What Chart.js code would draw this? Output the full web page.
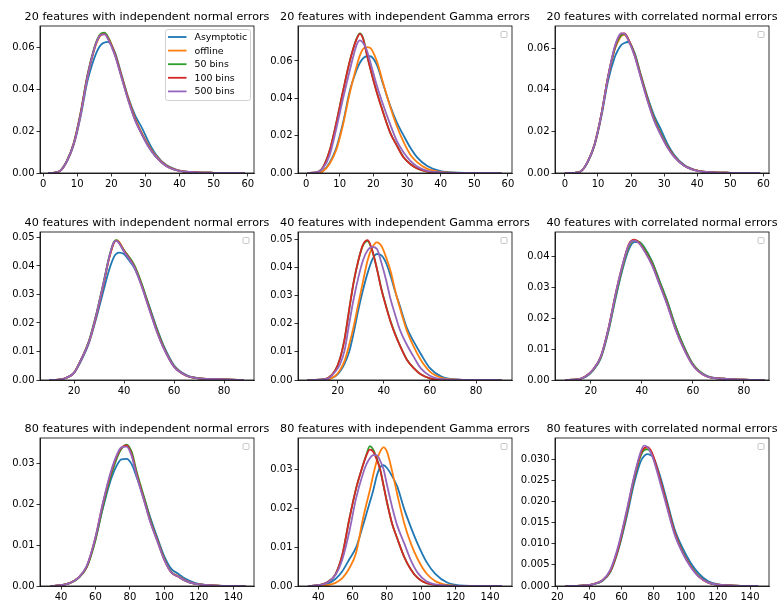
<!DOCTYPE html>
<html>
<head>
<meta charset="utf-8">
<script src="https://cdn.jsdelivr.net/npm/chart.js@4.4.0/dist/chart.umd.min.js"></script>
<style>
  body { margin: 0; background: #fff; width: 784px; height: 610px; position: relative; overflow: hidden; }
  canvas { position: absolute; }
</style>
</head>
<body>
<script>
const seriesLabels = ['Asymptotic', 'offline', '50 bins', '100 bins', '500 bins'];
const seriesColors = ['#1f77b4', '#ff7f0e', '#2ca02c', '#d62728', '#9467bd'];

const titles = [
    '20 features with independent normal errors', '20 features with independent Gamma errors', '20 features with correlated normal errors',
    '40 features with independent normal errors', '40 features with independent Gamma errors', '40 features with correlated normal errors',
    '80 features with independent normal errors', '80 features with independent Gamma errors', '80 features with correlated normal errors'
];

// tick labels
const x20Ticks = [0, 10, 20, 30, 40, 50, 60];
const y20Ticks = [0, 0.02, 0.04, 0.06];
const x40Ticks = [20, 40, 60, 80];
const y40Ticks = [0, 0.01, 0.02, 0.03, 0.04, 0.05];
const y40CorrTicks = [0, 0.01, 0.02, 0.03, 0.04];
const x80Ticks = [40, 60, 80, 100, 120, 140];
const x80CorrTicks = [20, 40, 60, 80, 100, 120, 140];
const y80Ticks = [0, 0.01, 0.02, 0.03];
const y80CorrTicks = [0, 0.005, 0.01, 0.015, 0.02, 0.025, 0.03];

// 20 features, independent normal
const p1X = [1.5, 3, 5, 7, 9, 11, 13, 15, 16, 17, 18, 19, 21, 23, 25, 27, 29, 31, 33, 36, 40, 45, 50, 59];
const p1Asym = [0, 0.0001, 0.001, 0.0055, 0.0135, 0.027, 0.044, 0.055, 0.059, 0.0615, 0.0625, 0.0628, 0.058, 0.047, 0.036, 0.0275, 0.0215, 0.0145, 0.009, 0.004, 0.0012, 0.0003, 0.0001, 0];
const p1Offline = [0, 0.0001, 0.001, 0.0058, 0.014, 0.028, 0.046, 0.059, 0.0635, 0.066, 0.0668, 0.065, 0.0575, 0.0465, 0.0355, 0.026, 0.019, 0.013, 0.0083, 0.0037, 0.0011, 0.0003, 0.0001, 0];
const p1Bins50 = [0, 0.0001, 0.0011, 0.006, 0.0145, 0.029, 0.047, 0.06, 0.0645, 0.0668, 0.0672, 0.0652, 0.0572, 0.0462, 0.035, 0.0255, 0.0185, 0.0125, 0.008, 0.0035, 0.001, 0.0003, 0.0001, 0];
const p1Bins100 = [0, 0.0001, 0.001, 0.0058, 0.0142, 0.0285, 0.0465, 0.0595, 0.064, 0.0663, 0.0665, 0.0645, 0.057, 0.046, 0.035, 0.0255, 0.0185, 0.0125, 0.008, 0.0035, 0.001, 0.0003, 0.0001, 0];
const p1Bins500 = [0, 0.0001, 0.001, 0.0058, 0.014, 0.028, 0.046, 0.0595, 0.064, 0.0662, 0.0664, 0.0642, 0.0565, 0.0455, 0.0345, 0.025, 0.0182, 0.0122, 0.0078, 0.0034, 0.001, 0.0003, 0.0001, 0];

// 20 features, independent Gamma
const p2X = [0.5, 3, 5, 7, 9, 11, 13, 15, 16, 17, 18, 19, 21, 23, 25, 27, 29, 31, 33, 36, 40, 45, 50, 58];
const p2Asym = [0, 0.0001, 0.001, 0.0055, 0.0135, 0.027, 0.044, 0.055, 0.059, 0.0615, 0.0625, 0.0625, 0.058, 0.047, 0.036, 0.027, 0.02, 0.0135, 0.0084, 0.0038, 0.001, 0.0002, 0, 0];
const p2Offline = [0, 0.0001, 0.001, 0.005, 0.0125, 0.026, 0.043, 0.057, 0.063, 0.0665, 0.0674, 0.067, 0.06, 0.0475, 0.0355, 0.025, 0.0165, 0.0098, 0.0058, 0.0022, 0.0006, 0.0001, 0, 0];
const p2Bins50 = [0, 0.0003, 0.003, 0.012, 0.027, 0.044, 0.06, 0.072, 0.0748, 0.072, 0.064, 0.0567, 0.0433, 0.032, 0.0216, 0.0147, 0.0084, 0.0048, 0.0025, 0.0007, 0.0002, 0, 0, 0];
const p2Bins100 = [0, 0.0003, 0.003, 0.012, 0.027, 0.044, 0.06, 0.0715, 0.0745, 0.0715, 0.0638, 0.0565, 0.0432, 0.0318, 0.0215, 0.0145, 0.0083, 0.0047, 0.0024, 0.0007, 0.0002, 0, 0, 0];
const p2Bins500 = [0, 0.0003, 0.0025, 0.0095, 0.024, 0.04, 0.055, 0.0685, 0.071, 0.0695, 0.066, 0.06, 0.047, 0.036, 0.026, 0.017, 0.011, 0.0065, 0.0035, 0.0012, 0.0003, 0, 0, 0];

// 20 features, correlated normal
const p3X = [0, 3, 5, 7, 9, 11, 13, 15, 16, 17, 18, 19, 21, 23, 25, 27, 29, 31, 33, 36, 40, 45, 50, 59];
const p3Asym = [0, 0.0001, 0.001, 0.0055, 0.0135, 0.027, 0.044, 0.0555, 0.059, 0.0615, 0.0625, 0.063, 0.058, 0.047, 0.0365, 0.0275, 0.021, 0.014, 0.0088, 0.004, 0.0012, 0.0003, 0.0001, 0];
const p3Offline = [0, 0.0001, 0.001, 0.0058, 0.014, 0.028, 0.046, 0.059, 0.063, 0.0658, 0.0665, 0.0645, 0.0572, 0.0465, 0.0355, 0.026, 0.0188, 0.0128, 0.0082, 0.0036, 0.0011, 0.0003, 0.0001, 0];
const p3Bins50 = [0, 0.0001, 0.001, 0.0058, 0.014, 0.028, 0.046, 0.0595, 0.0638, 0.0662, 0.0668, 0.0648, 0.0575, 0.0465, 0.0355, 0.026, 0.019, 0.0128, 0.0082, 0.0036, 0.0011, 0.0003, 0.0001, 0];
const p3Bins100 = [0, 0.0001, 0.001, 0.0058, 0.014, 0.028, 0.046, 0.06, 0.0645, 0.067, 0.0672, 0.065, 0.057, 0.046, 0.035, 0.0255, 0.0185, 0.0125, 0.008, 0.0036, 0.0011, 0.0003, 0.0001, 0];
const p3Bins500 = [0, 0.0001, 0.001, 0.0058, 0.014, 0.028, 0.046, 0.0605, 0.065, 0.0672, 0.067, 0.0645, 0.0565, 0.0455, 0.0345, 0.025, 0.0182, 0.0122, 0.0078, 0.0035, 0.001, 0.0003, 0.0001, 0];

// 40 features, independent normal
const p4X = [10, 14, 17, 20, 23, 26, 29, 32, 34, 36, 37, 38, 40, 42, 44, 47, 50, 53, 56, 60, 65, 70, 80, 88];
const p4Asym = [0, 0.0001, 0.0008, 0.0025, 0.007, 0.013, 0.022, 0.032, 0.0385, 0.0432, 0.0443, 0.0447, 0.0442, 0.042, 0.0395, 0.0335, 0.0262, 0.0185, 0.0118, 0.0052, 0.0017, 0.0006, 0.0002, 0];
const p4Offline = [0, 0.0001, 0.0008, 0.0025, 0.0075, 0.0135, 0.023, 0.0345, 0.0425, 0.0482, 0.049, 0.0485, 0.0455, 0.043, 0.0402, 0.0335, 0.0255, 0.0178, 0.0112, 0.0048, 0.0015, 0.0006, 0.0002, 0];
const p4Bins50 = [0, 0.0001, 0.0008, 0.0025, 0.0075, 0.0138, 0.0235, 0.035, 0.043, 0.0485, 0.049, 0.0482, 0.0455, 0.0432, 0.0405, 0.034, 0.0258, 0.018, 0.0113, 0.0048, 0.0015, 0.0006, 0.0002, 0];
const p4Bins100 = [0, 0.0001, 0.0008, 0.0025, 0.0075, 0.0135, 0.023, 0.0345, 0.0425, 0.0482, 0.0488, 0.0482, 0.0452, 0.0428, 0.04, 0.0333, 0.0253, 0.0175, 0.011, 0.0047, 0.0015, 0.0006, 0.0002, 0];
const p4Bins500 = [0, 0.0001, 0.0008, 0.0025, 0.0075, 0.0135, 0.0232, 0.0348, 0.0428, 0.0484, 0.0488, 0.048, 0.045, 0.0425, 0.0398, 0.033, 0.025, 0.0172, 0.0108, 0.0046, 0.0015, 0.0006, 0.0002, 0];

// 40 features, independent Gamma
const p5X = [7, 12, 16, 19, 21, 23, 25, 27, 29, 31, 33, 35, 37, 39, 41, 43, 45, 47, 50, 53, 56, 60, 65, 70, 80, 91];
const p5Asym = [0, 0, 0.0003, 0.0013, 0.003, 0.0058, 0.01, 0.017, 0.025, 0.032, 0.038, 0.0427, 0.0447, 0.0442, 0.0415, 0.0368, 0.0312, 0.0262, 0.0185, 0.0136, 0.0093, 0.0042, 0.0012, 0.0003, 0, 0];
const p5Offline = [0, 0, 0.0003, 0.0015, 0.0035, 0.0068, 0.0125, 0.0192, 0.0272, 0.035, 0.0425, 0.047, 0.0488, 0.0475, 0.0435, 0.0385, 0.0315, 0.0255, 0.0175, 0.0118, 0.0072, 0.003, 0.0008, 0.0002, 0, 0];
const p5Bins50 = [0, 0.0001, 0.0008, 0.0035, 0.0075, 0.0145, 0.025, 0.035, 0.0425, 0.0478, 0.0493, 0.0458, 0.0395, 0.0322, 0.0262, 0.0207, 0.0162, 0.0123, 0.0073, 0.0042, 0.002, 0.0006, 0.0001, 0, 0, 0];
const p5Bins100 = [0, 0.0001, 0.0008, 0.0035, 0.0075, 0.0145, 0.025, 0.035, 0.0425, 0.048, 0.0496, 0.046, 0.0395, 0.032, 0.026, 0.0205, 0.016, 0.0122, 0.0072, 0.0042, 0.002, 0.0006, 0.0001, 0, 0, 0];
const p5Bins500 = [0, 0.0001, 0.0006, 0.003, 0.0055, 0.0105, 0.02, 0.029, 0.0365, 0.0425, 0.046, 0.0472, 0.0465, 0.0415, 0.0355, 0.0285, 0.023, 0.0178, 0.0125, 0.0082, 0.0042, 0.0015, 0.0003, 0.0001, 0, 0];

// 40 features, correlated normal
const p6X = [10, 15, 18, 21, 24, 27, 30, 33, 35, 37, 39, 41, 44, 47, 50, 53, 56, 60, 65, 72, 80, 88];
const p6Asym = [0, 0.0002, 0.001, 0.0032, 0.0072, 0.016, 0.0275, 0.0375, 0.0425, 0.0447, 0.0447, 0.043, 0.0385, 0.032, 0.0255, 0.018, 0.0118, 0.0052, 0.0015, 0.0004, 0.0001, 0];
const p6Offline = [0, 0.0002, 0.0012, 0.0034, 0.0076, 0.0168, 0.0285, 0.0385, 0.0435, 0.0452, 0.0446, 0.0425, 0.038, 0.0315, 0.025, 0.0175, 0.0114, 0.005, 0.0014, 0.0004, 0.0001, 0];
const p6Bins50 = [0, 0.0002, 0.0011, 0.0033, 0.0075, 0.0165, 0.0282, 0.0383, 0.0435, 0.0452, 0.0448, 0.0428, 0.0382, 0.0318, 0.0252, 0.0178, 0.0116, 0.0051, 0.0014, 0.0004, 0.0001, 0];
const p6Bins100 = [0, 0.0002, 0.0012, 0.0035, 0.0078, 0.017, 0.029, 0.039, 0.0442, 0.0455, 0.0445, 0.042, 0.0375, 0.031, 0.0245, 0.017, 0.011, 0.0048, 0.0013, 0.0004, 0.0001, 0];
const p6Bins500 = [0, 0.0002, 0.0012, 0.0035, 0.0078, 0.017, 0.029, 0.039, 0.044, 0.0452, 0.0442, 0.0418, 0.0372, 0.0308, 0.0242, 0.0168, 0.0108, 0.0047, 0.0013, 0.0004, 0.0001, 0];

// 80 features, independent normal
const p7X = [34, 40, 45, 50, 55, 60, 64, 68, 72, 75, 78, 81, 84, 88, 92, 96, 100, 104, 108, 112, 118, 125, 135, 147];
const p7Asym = [0, 0.0002, 0.0007, 0.002, 0.0048, 0.0115, 0.0185, 0.0248, 0.0292, 0.031, 0.0311, 0.0298, 0.0265, 0.0218, 0.0165, 0.0117, 0.0072, 0.0042, 0.003, 0.0018, 0.0007, 0.0002, 0, 0];
const p7Offline = [0, 0.0002, 0.0007, 0.002, 0.0048, 0.0118, 0.0195, 0.0262, 0.0313, 0.0337, 0.0343, 0.0322, 0.0272, 0.0215, 0.0157, 0.011, 0.0065, 0.0034, 0.0024, 0.0014, 0.0005, 0.0002, 0, 0];
const p7Bins50 = [0, 0.0002, 0.0007, 0.0019, 0.0046, 0.0112, 0.0188, 0.0255, 0.0308, 0.0335, 0.0346, 0.0328, 0.0278, 0.022, 0.016, 0.0112, 0.0066, 0.0034, 0.0023, 0.0013, 0.0005, 0.0002, 0, 0];
const p7Bins100 = [0, 0.0002, 0.0007, 0.002, 0.0048, 0.0118, 0.0195, 0.0262, 0.0314, 0.0338, 0.0344, 0.0322, 0.0272, 0.0214, 0.0156, 0.011, 0.0064, 0.0033, 0.0023, 0.0013, 0.0005, 0.0002, 0, 0];
const p7Bins500 = [0, 0.0002, 0.0007, 0.002, 0.005, 0.012, 0.0198, 0.0266, 0.0317, 0.0339, 0.0341, 0.0318, 0.0268, 0.0211, 0.0154, 0.0108, 0.0063, 0.0033, 0.0023, 0.0013, 0.0005, 0.0002, 0, 0];

// 80 features, independent Gamma
const p8X = [34, 40, 45, 50, 54, 58, 62, 66, 68, 70, 72, 74, 76, 78, 80, 83, 86, 90, 94, 98, 103, 108, 115, 125, 147];
const p8Asym = [0, 0.0001, 0.0005, 0.0018, 0.0038, 0.0068, 0.0099, 0.0155, 0.0185, 0.0215, 0.0245, 0.0282, 0.0305, 0.031, 0.0303, 0.0282, 0.0255, 0.0198, 0.015, 0.0107, 0.0062, 0.0032, 0.0009, 0.0001, 0];
const p8Offline = [0, 0, 0.0002, 0.0008, 0.002, 0.0045, 0.0085, 0.0172, 0.021, 0.0245, 0.0285, 0.032, 0.0345, 0.0356, 0.0345, 0.0295, 0.0235, 0.0162, 0.0108, 0.0068, 0.0032, 0.0013, 0.0003, 0, 0];
const p8Bins50 = [0, 0.0002, 0.0009, 0.003, 0.008, 0.017, 0.025, 0.031, 0.0337, 0.0359, 0.035, 0.0328, 0.03, 0.0258, 0.0215, 0.016, 0.0122, 0.0075, 0.0042, 0.002, 0.0007, 0.0003, 0.0001, 0, 0];
const p8Bins100 = [0, 0.0002, 0.0009, 0.003, 0.008, 0.017, 0.025, 0.031, 0.0335, 0.035, 0.0345, 0.0325, 0.03, 0.0258, 0.0215, 0.016, 0.0122, 0.0075, 0.0042, 0.002, 0.0007, 0.0003, 0.0001, 0, 0];
const p8Bins500 = [0, 0.0002, 0.0008, 0.0028, 0.0068, 0.0138, 0.0225, 0.0288, 0.0312, 0.0328, 0.0336, 0.0336, 0.0322, 0.03, 0.026, 0.0203, 0.0155, 0.011, 0.0065, 0.0033, 0.0012, 0.0004, 0.0001, 0, 0];

// 80 features, correlated normal
const p9X = [25, 35, 42, 48, 53, 58, 63, 68, 72, 74, 76, 78, 80, 84, 88, 93, 98, 103, 108, 114, 120, 130, 145];
const p9Asym = [0, 0.0001, 0.0004, 0.0012, 0.0033, 0.0085, 0.016, 0.0245, 0.0295, 0.0307, 0.0312, 0.031, 0.0303, 0.026, 0.0205, 0.0135, 0.009, 0.0055, 0.003, 0.0011, 0.0004, 0.0001, 0];
const p9Offline = [0, 0.0001, 0.0004, 0.0013, 0.0035, 0.009, 0.017, 0.0258, 0.0312, 0.0324, 0.0326, 0.032, 0.0303, 0.025, 0.0196, 0.0127, 0.008, 0.0047, 0.0023, 0.0008, 0.0003, 0.0001, 0];
const p9Bins50 = [0, 0.0001, 0.0004, 0.0012, 0.0034, 0.0088, 0.0167, 0.0255, 0.0308, 0.0321, 0.0323, 0.0318, 0.0302, 0.0252, 0.0198, 0.0128, 0.0082, 0.0048, 0.0024, 0.0008, 0.0003, 0.0001, 0];
const p9Bins100 = [0, 0.0001, 0.0004, 0.0013, 0.0035, 0.009, 0.017, 0.0258, 0.0313, 0.0326, 0.0329, 0.0322, 0.0305, 0.0252, 0.0197, 0.0127, 0.008, 0.0047, 0.0023, 0.0008, 0.0003, 0.0001, 0];
const p9Bins500 = [0, 0.0001, 0.0004, 0.0013, 0.0038, 0.0095, 0.0175, 0.0262, 0.0318, 0.0332, 0.0329, 0.0317, 0.0298, 0.0245, 0.019, 0.0122, 0.0078, 0.0045, 0.0022, 0.0008, 0.0003, 0.0001, 0];

const panels = [
    { x: p1X, ys: [p1Asym, p1Offline, p1Bins50, p1Bins100, p1Bins500], xt: x20Ticks, yt: y20Ticks, xMin: -0.9, xMax: 61.8, yMax: 0.0704, dec: 2, legend: true },
    { x: p2X, ys: [p2Asym, p2Offline, p2Bins50, p2Bins100, p2Bins500], xt: x20Ticks, yt: y20Ticks, xMin: -2.4, xMax: 61.2, yMax: 0.0787, dec: 2 },
    { x: p3X, ys: [p3Asym, p3Offline, p3Bins50, p3Bins100, p3Bins500], xt: x20Ticks, yt: y20Ticks, xMin: -3.0, xMax: 61.7, yMax: 0.0707, dec: 2 },
    { x: p4X, ys: [p4Asym, p4Offline, p4Bins50, p4Bins100, p4Bins500], xt: x40Ticks, yt: y40Ticks, xMin: 6.4, xMax: 92, yMax: 0.0519, dec: 2 },
    { x: p5X, ys: [p5Asym, p5Offline, p5Bins50, p5Bins100, p5Bins500], xt: x40Ticks, yt: y40Ticks, xMin: 2.8, xMax: 95.6, yMax: 0.0525, dec: 2 },
    { x: p6X, ys: [p6Asym, p6Offline, p6Bins50, p6Bins100, p6Bins500], xt: x40Ticks, yt: y40CorrTicks, xMin: 6.0, xMax: 89.8, yMax: 0.048, dec: 2 },
    { x: p7X, ys: [p7Asym, p7Offline, p7Bins50, p7Bins100, p7Bins500], xt: x80Ticks, yt: y80Ticks, xMin: 27.8, xMax: 152, yMax: 0.0362, dec: 2 },
    { x: p8X, ys: [p8Asym, p8Offline, p8Bins50, p8Bins100, p8Bins500], xt: x80Ticks, yt: y80Ticks, xMin: 28.2, xMax: 152.8, yMax: 0.038, dec: 2 },
    { x: p9X, ys: [p9Asym, p9Offline, p9Bins50, p9Bins100, p9Bins500], xt: x80CorrTicks, yt: y80CorrTicks, xMin: 18.6, xMax: 151.8, yMax: 0.035, dec: 3 }
];

const FONT = 'DejaVu Sans';
Chart.defaults.font.family = FONT;
Chart.defaults.color = '#000';

const colLeft = [0, 258, 515];
const colWidth = [272, 272, 269];
const rowTop = [0, 206, 412];
const canvasH = 198;
const plotLeft = 40, plotTop = 26, plotW = 214;
const plotBottom = [173, 174, 174];

// spines, title and legend boxes drawn on top of the plot
const framePlugin = {
    id: 'frame',
    afterDatasetsDraw(chart, args, opts) {
        const a = chart.chartArea;
        const c = chart.ctx;
        c.save();
        c.strokeStyle = '#000';
        c.lineWidth = 0.8;
        c.strokeRect(a.left, a.top, a.right - a.left, a.bottom - a.top);

        c.fillStyle = '#000';
        c.font = '11.2px "' + FONT + '"';
        c.textAlign = 'center';
        c.textBaseline = 'alphabetic';
        c.fillText(opts.title, (a.left + a.right) / 2, a.top - 5.6);

        c.strokeStyle = '#c4c4c4';
        c.lineWidth = 0.8;
        if (opts.legend) {
            const bw = 85, bh = 71;
            const bx = a.right - 3.5 - bw, by = a.top + 3.5;
            c.beginPath();
            c.roundRect(bx, by, bw, bh, 2);
            c.fillStyle = 'rgba(255,255,255,0.8)';
            c.fill();
            c.stroke();
            c.font = '9.4px "' + FONT + '"';
            c.textAlign = 'left';
            c.textBaseline = 'middle';
            chart.data.datasets.forEach((ds, i) => {
                const y = by + 7.5 + i * 13.6;
                c.strokeStyle = ds.borderColor;
                c.lineWidth = 1.8;
                c.beginPath();
                c.moveTo(bx + 2.5, y);
                c.lineTo(bx + 21, y);
                c.stroke();
                c.fillStyle = '#000';
                c.fillText(ds.label, bx + 29, y + 0.5);
            });
        } else {
            c.strokeStyle = '#b8b8b8';
            c.beginPath();
            c.roundRect(a.right - 11, a.top + 5.5, 6, 6, 1.2);
            c.fillStyle = 'rgba(255,255,255,0.8)';
            c.fill();
            c.stroke();
        }
        c.restore();
    }
};

panels.forEach((p, idx) => {
    const r = Math.floor(idx / 3), col = idx % 3;
    const W = colWidth[col];
    const cv = document.createElement('canvas');
    cv.width = W;
    cv.height = canvasH;
    cv.style.left = colLeft[col] + 'px';
    cv.style.top = rowTop[r] + 'px';
    document.body.appendChild(cv);

    const bottom = plotBottom[r];
    const datasets = p.ys.map((ys, i) => ({
        label: seriesLabels[i],
        data: p.x.map((xv, k) => ({ x: xv, y: ys[k] })),
        borderColor: seriesColors[i],
        borderWidth: 1.8,
        pointRadius: 0,
        fill: false,
        cubicInterpolationMode: 'monotone',
        order: 4 - i
    }));

    new Chart(cv.getContext('2d'), {
        type: 'line',
        data: { datasets: datasets },
        plugins: [framePlugin],
        options: {
            responsive: false,
            animation: false,
            events: [],
            layout: { padding: { top: plotTop, left: 0, bottom: 0, right: W - plotLeft - plotW } },
            plugins: {
                legend: { display: false },
                tooltip: { enabled: false },
                frame: { title: titles[idx], legend: !!p.legend }
            },
            scales: {
                x: {
                    type: 'linear',
                    min: p.xMin,
                    max: p.xMax,
                    afterFit: s => { s.height = canvasH - bottom; },
                    afterBuildTicks: s => { s.ticks = p.xt.map(v => ({ value: v })); },
                    grid: { drawOnChartArea: false, drawTicks: true, tickLength: 3.5, color: '#000', lineWidth: 0.8 },
                    border: { display: true, color: '#000', width: 0.8 },
                    ticks: { color: '#000', font: { size: 10 }, padding: 2, maxRotation: 0, autoSkip: false, callback: v => String(v) }
                },
                y: {
                    type: 'linear',
                    min: 0,
                    max: p.yMax,
                    afterFit: s => { s.width = plotLeft; },
                    afterBuildTicks: s => { s.ticks = p.yt.map(v => ({ value: v })); },
                    grid: { drawOnChartArea: false, drawTicks: true, tickLength: 3.5, color: '#000', lineWidth: 0.8 },
                    border: { display: true, color: '#000', width: 0.8 },
                    ticks: { color: '#000', font: { size: 10 }, padding: 2, autoSkip: false, callback: v => v.toFixed(p.dec) }
                }
            }
        }
    });
});
</script>
</body>
</html>
